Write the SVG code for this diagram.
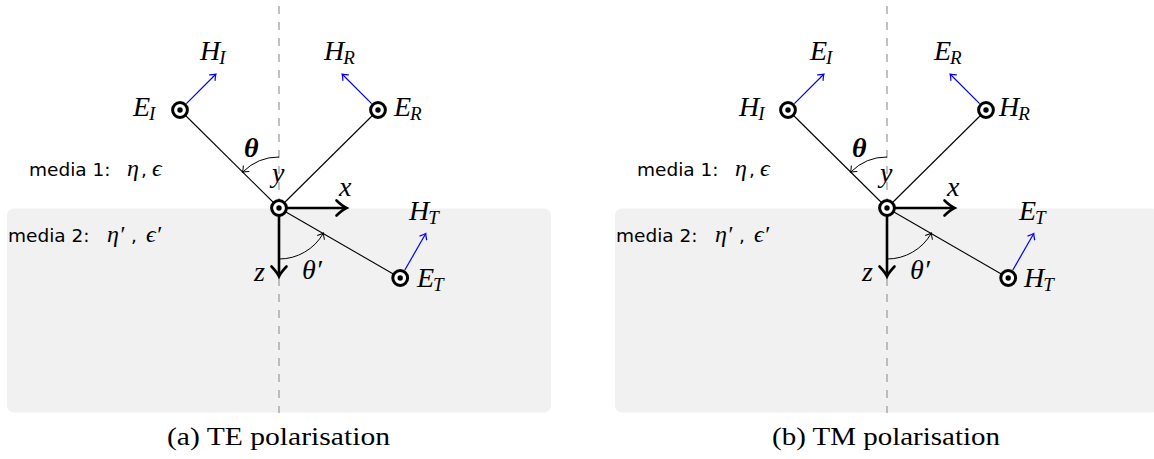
<svg xmlns="http://www.w3.org/2000/svg" xmlns:xlink="http://www.w3.org/1999/xlink" width="1154" height="459" viewBox="0 0 1154 459">
<style>
.bg { fill: #f1f1f1; stroke: none; }
.axis { stroke: #a0a0a0; stroke-width: 1.3; stroke-dasharray: 8 8; fill: none; }
.ray { stroke: #000; stroke-width: 1.1; fill: none; }
.field { stroke: #0000ff; stroke-width: 1.2; fill: none; marker-end: url(#arB); }
.ang { stroke: #000; stroke-width: 1; fill: none; marker-end: url(#arK); }
.ax { stroke: #000; stroke-width: 2.6; fill: none; marker-end: url(#arX); }
.m { font-family: "Liberation Serif", "DejaVu Serif", serif; font-style: italic; font-size: 28px; fill: #000; }
.s { font-size: 19px; }
.bt { font-weight: bold; }
.sans { font-family: "DejaVu Sans", "Liberation Sans", sans-serif; font-size: 18.5px; fill: #000; }
.mi { font-family: "Liberation Serif", serif; font-style: italic; font-size: 24px; }
.cap { font-family: "Liberation Serif", "DejaVu Serif", serif; font-size: 25px; fill: #000; }
</style>
<defs>
<marker id="arB" markerUnits="userSpaceOnUse" viewBox="-10 -10 20 20" markerWidth="20" markerHeight="20" refX="0" refY="0" orient="auto" overflow="visible">
<path d="M -4.8 -4.2 Q -1.6 -1.2 0.6 0 Q -1.6 1.2 -4.8 4.2" fill="none" stroke="#0000ff" stroke-width="1.2"/>
</marker>
<marker id="arK" markerUnits="userSpaceOnUse" viewBox="-10 -10 20 20" markerWidth="20" markerHeight="20" refX="0" refY="0" orient="auto" overflow="visible">
<path d="M -4.8 -4.2 Q -1.6 -1.2 0.6 0 Q -1.6 1.2 -4.8 4.2" fill="none" stroke="#000" stroke-width="1"/>
</marker>
<marker id="arX" markerUnits="userSpaceOnUse" viewBox="-12 -12 24 24" markerWidth="24" markerHeight="24" refX="0" refY="0" orient="auto" overflow="visible">
<path d="M -8.5 -7.5 Q -2.8 -2 1.5 0 Q -2.8 2 -8.5 7.5" fill="none" stroke="#000" stroke-width="2.6" stroke-linecap="round"/>
</marker>
<g id="dot">
<circle r="7.4" fill="#fff" stroke="#000" stroke-width="3"/>
<circle r="2.7" fill="#000"/>
</g>
</defs>

<!-- ===== Panel (a) TE ===== -->
<g id="panel-a">
<rect id="a-media2" class="bg" x="7" y="208.5" width="544" height="204" rx="7"/>
<g id="a-connectors">
<line class="axis" x1="279" y1="6" x2="279" y2="413"/>
<line class="ray" x1="180" y1="110" x2="279" y2="208"/>
<line class="ray" x1="378" y1="110" x2="279" y2="208"/>
<line class="ray" x1="279" y1="208" x2="400.2" y2="278"/>
<line class="field" x1="186.4" y1="103.6" x2="215.5" y2="74.5"/>
<line class="field" x1="371.6" y1="103.6" x2="342.5" y2="74.5"/>
<line class="field" x1="404.7" y1="270.2" x2="425.5" y2="234"/>
<path class="ang" d="M 279 157 A 51 51 0 0 0 242.9 171.9"/>
<path class="ang" d="M 279 259 A 51 51 0 0 0 323.2 233.5"/>
<line class="ax" x1="279" y1="208" x2="345" y2="208"/>
<line class="ax" x1="279" y1="208" x2="279" y2="275"/>
</g>
<g id="a-EI"><use xlink:href="#dot" x="180" y="110"/><text class="m" x="133" y="116">E<tspan class="s" dx="-1" dy="4">I</tspan></text></g>
<g id="a-ER"><use xlink:href="#dot" x="378" y="110"/><text class="m" x="394" y="116">E<tspan class="s" dx="-1" dy="4">R</tspan></text></g>
<g id="a-O"><use xlink:href="#dot" x="279" y="208"/></g>
<g id="a-ET"><use xlink:href="#dot" x="400.2" y="278"/><text class="m" x="417" y="287">E<tspan class="s" dx="-1" dy="4">T</tspan></text></g>
<g id="a-HI"><text class="m" x="200" y="60">H<tspan class="s" dx="-1" dy="4">I</tspan></text></g>
<g id="a-HR"><text class="m" x="324" y="60">H<tspan class="s" dx="-1" dy="4">R</tspan></text></g>
<g id="a-HT"><text class="m" x="409" y="220">H<tspan class="s" dx="-1" dy="4">T</tspan></text></g>
<g id="a-labels">
<text class="m bt" x="244" y="157">θ</text>
<text class="m" x="272" y="182">y</text>
<text class="m" x="339" y="196">x</text>
<text class="m" x="254" y="281">z</text>
<text class="m" x="302" y="279">θ′</text>
<text class="sans" x="29" y="175.5">media 1:<tspan class="mi" x="127">η</tspan><tspan x="141">,</tspan><tspan class="mi" x="152">ϵ</tspan></text>
<text class="sans" x="8" y="241.5">media 2:<tspan class="mi" x="107">η′</tspan><tspan x="131">,</tspan><tspan class="mi" x="146">ϵ′</tspan></text>
<text class="cap" x="167" y="445" textLength="223" lengthAdjust="spacingAndGlyphs">(a) TE polarisation</text>
</g>
</g>

<!-- ===== Panel (b) TM ===== -->
<g id="panel-b" transform="translate(608,0)">
<rect id="b-media2" class="bg" x="7" y="208.5" width="544" height="204" rx="7"/>
<g id="b-connectors">
<line class="axis" x1="279" y1="6" x2="279" y2="413"/>
<line class="ray" x1="180" y1="110" x2="279" y2="208"/>
<line class="ray" x1="378" y1="110" x2="279" y2="208"/>
<line class="ray" x1="279" y1="208" x2="400.2" y2="278"/>
<line class="field" x1="186.4" y1="103.6" x2="215.5" y2="74.5"/>
<line class="field" x1="371.6" y1="103.6" x2="342.5" y2="74.5"/>
<line class="field" x1="404.7" y1="270.2" x2="425.5" y2="234"/>
<path class="ang" d="M 279 157 A 51 51 0 0 0 242.9 171.9"/>
<path class="ang" d="M 279 259 A 51 51 0 0 0 323.2 233.5"/>
<line class="ax" x1="279" y1="208" x2="345" y2="208"/>
<line class="ax" x1="279" y1="208" x2="279" y2="275"/>
</g>
<g id="b-HI"><use xlink:href="#dot" x="180" y="110"/><text class="m" x="131" y="116">H<tspan class="s" dx="-1" dy="4">I</tspan></text></g>
<g id="b-HR"><use xlink:href="#dot" x="378" y="110"/><text class="m" x="391" y="116">H<tspan class="s" dx="-1" dy="4">R</tspan></text></g>
<g id="b-O"><use xlink:href="#dot" x="279" y="208"/></g>
<g id="b-HT"><use xlink:href="#dot" x="400.2" y="278"/><text class="m" x="416" y="287">H<tspan class="s" dx="-1" dy="4">T</tspan></text></g>
<g id="b-EI"><text class="m" x="202" y="60">E<tspan class="s" dx="-1" dy="4">I</tspan></text></g>
<g id="b-ER"><text class="m" x="326" y="60">E<tspan class="s" dx="-1" dy="4">R</tspan></text></g>
<g id="b-ET"><text class="m" x="411" y="220">E<tspan class="s" dx="-1" dy="4">T</tspan></text></g>
<g id="b-labels">
<text class="m bt" x="244" y="157">θ</text>
<text class="m" x="272" y="182">y</text>
<text class="m" x="339" y="196">x</text>
<text class="m" x="254" y="281">z</text>
<text class="m" x="302" y="279">θ′</text>
<text class="sans" x="29" y="175.5">media 1:<tspan class="mi" x="127">η</tspan><tspan x="141">,</tspan><tspan class="mi" x="152">ϵ</tspan></text>
<text class="sans" x="8" y="241.5">media 2:<tspan class="mi" x="107">η′</tspan><tspan x="131">,</tspan><tspan class="mi" x="146">ϵ′</tspan></text>
<text class="cap" x="164" y="445" textLength="228" lengthAdjust="spacingAndGlyphs">(b) TM polarisation</text>
</g>
</g>
</svg>
